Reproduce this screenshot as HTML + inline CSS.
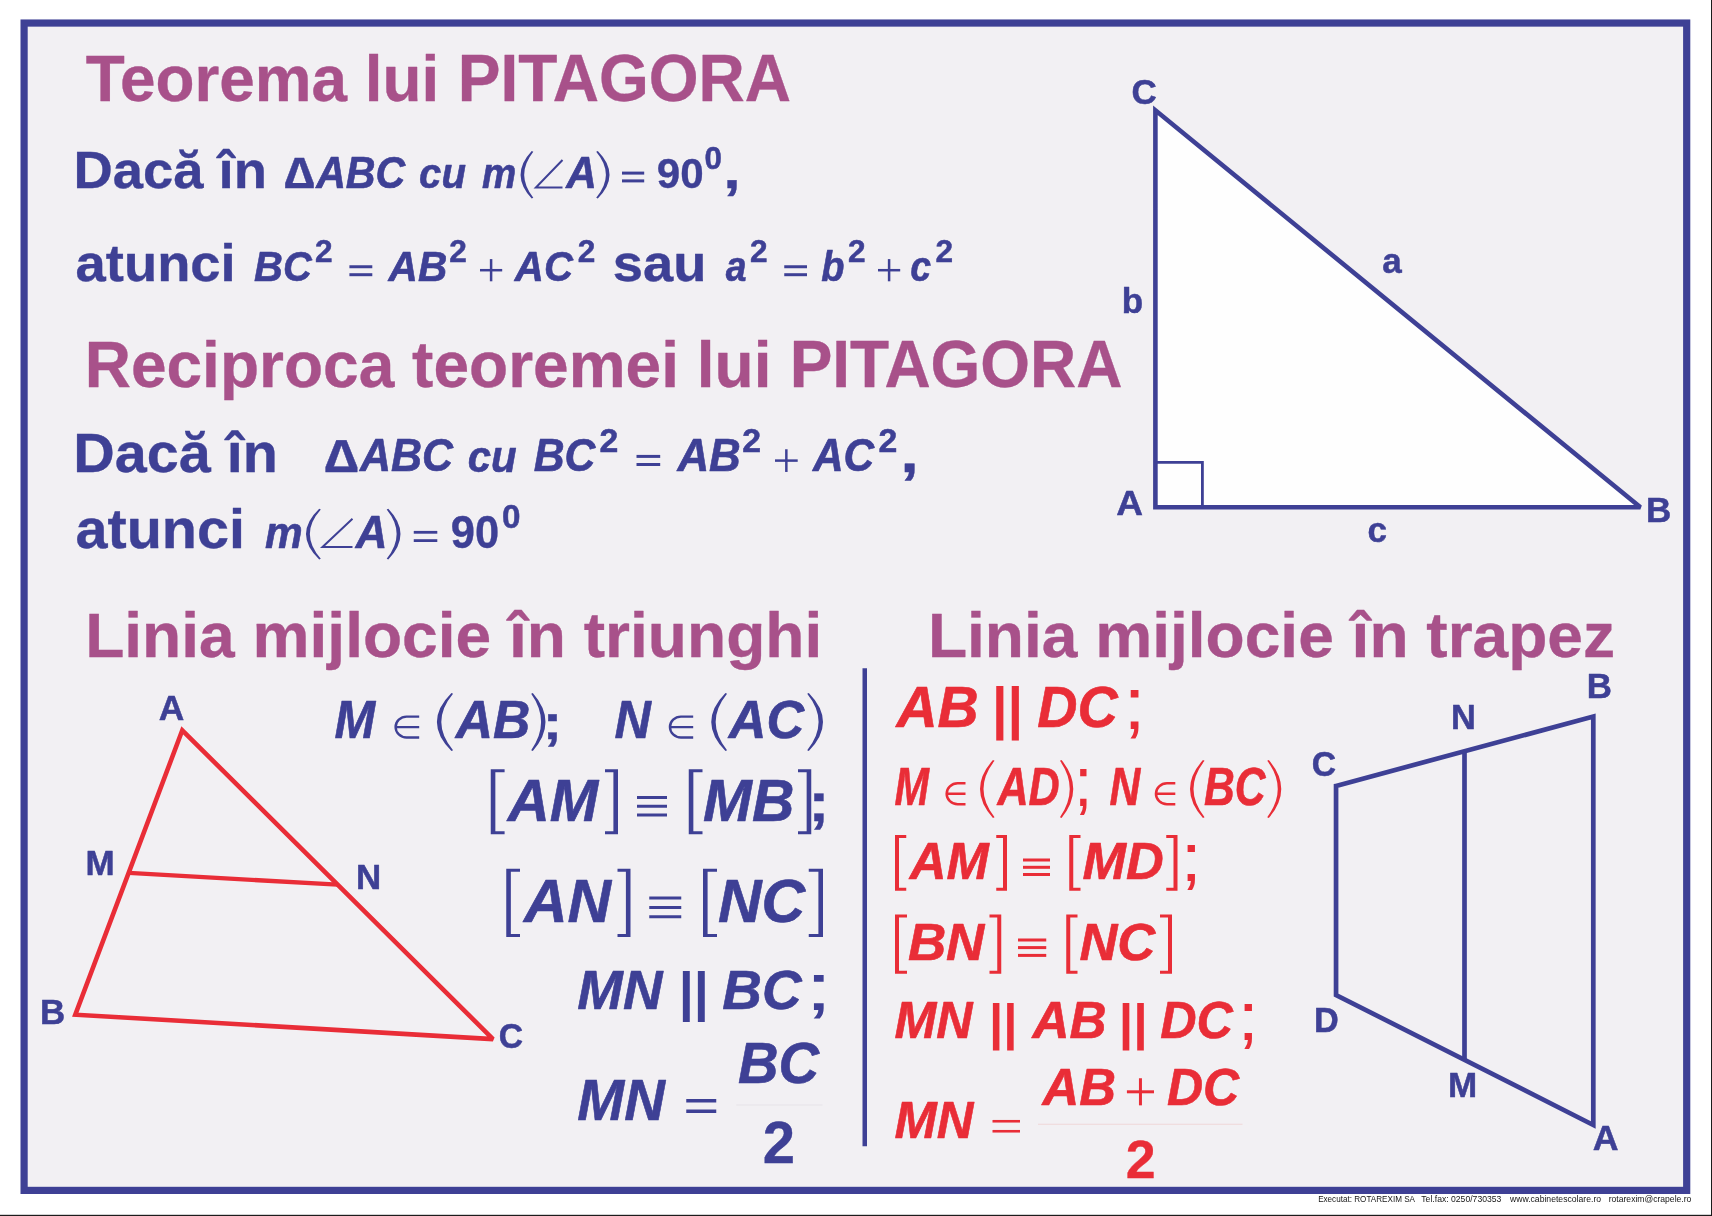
<!DOCTYPE html>
<html><head><meta charset="utf-8"><title>Teorema lui Pitagora</title>
<style>
html,body{margin:0;padding:0;background:#fff;}
body{width:1712px;height:1216px;overflow:hidden;position:relative;font-family:"Liberation Sans",sans-serif;}
svg{position:absolute;left:0;top:0;display:block;will-change:transform;}
text{font-family:"Liberation Sans",sans-serif;white-space:pre;}
</style></head><body>
<svg width="1712" height="1216" viewBox="0 0 1712 1216">
<rect x="24.1" y="23.05" width="1662.6" height="1167.35" fill="#f2f0f3" stroke="#3e4095" stroke-width="7.2"/>
<rect x="1711" y="0" width="1" height="1216" fill="#1c1c1c"/>
<rect x="0" y="1214.8" width="1712" height="1.2" fill="#1c1c1c"/>
<polygon points="1155.4,110.3 1155.4,507.3 1640.4,507.3" fill="#fefefe" stroke="#3e4095" stroke-width="4.6" stroke-linejoin="miter" stroke-miterlimit="2.6"/>
<path d="M1155.4,462.4 H1202.4 V507.3" fill="none" stroke="#3e4095" stroke-width="2.8"/>
<polygon points="182.3,730.3 75.3,1014.7 493,1039.1" fill="none" stroke="#e92d37" stroke-width="4.6" stroke-linejoin="miter" stroke-miterlimit="2.5"/>
<line x1="128.80" y1="872.90" x2="337.65" y2="884.70" stroke="#e92d37" stroke-width="4.30" stroke-linecap="butt"/>
<polygon points="1336.05,785.9 1593.3,716.5 1593.3,1125 1336.05,995" fill="none" stroke="#3e4095" stroke-width="4.7" stroke-linejoin="miter"/>
<line x1="1464.50" y1="751.20" x2="1464.50" y2="1060.00" stroke="#3e4095" stroke-width="4.70" stroke-linecap="butt"/>
<line x1="864.75" y1="668.25" x2="864.75" y2="1146.25" stroke="#3e4095" stroke-width="4.50" stroke-linecap="butt"/>
<path d="M531.70,151.00 Q509.50,174.75 531.70,198.50 L533.30,197.70 Q515.12,174.75 533.30,151.80 Z" fill="#3e4095"/>
<path d="M562.50,160.00 L535.90,187.50 H562.50" fill="none" stroke="#3e4095" stroke-width="2.00" stroke-linejoin="miter"/>
<path d="M597.80,151.00 Q621.20,174.75 597.80,198.50 L596.20,197.70 Q615.58,174.75 596.20,151.80 Z" fill="#3e4095"/>
<line x1="622.00" y1="173.10" x2="644.20" y2="173.10" stroke="#3e4095" stroke-width="3.00" stroke-linecap="butt"/>
<line x1="622.00" y1="180.90" x2="644.20" y2="180.90" stroke="#3e4095" stroke-width="3.00" stroke-linecap="butt"/>
<line x1="349.40" y1="266.75" x2="372.30" y2="266.75" stroke="#3e4095" stroke-width="3.00" stroke-linecap="butt"/>
<line x1="349.40" y1="274.70" x2="372.30" y2="274.70" stroke="#3e4095" stroke-width="3.00" stroke-linecap="butt"/>
<line x1="480.00" y1="270.20" x2="502.20" y2="270.20" stroke="#3e4095" stroke-width="2.50" stroke-linecap="butt"/>
<line x1="491.10" y1="259.10" x2="491.10" y2="281.30" stroke="#3e4095" stroke-width="2.50" stroke-linecap="butt"/>
<line x1="784.25" y1="266.75" x2="807.00" y2="266.75" stroke="#3e4095" stroke-width="3.00" stroke-linecap="butt"/>
<line x1="784.25" y1="274.70" x2="807.00" y2="274.70" stroke="#3e4095" stroke-width="3.00" stroke-linecap="butt"/>
<line x1="878.00" y1="270.20" x2="900.20" y2="270.20" stroke="#3e4095" stroke-width="2.50" stroke-linecap="butt"/>
<line x1="889.10" y1="259.10" x2="889.10" y2="281.30" stroke="#3e4095" stroke-width="2.50" stroke-linecap="butt"/>
<line x1="636.50" y1="456.40" x2="660.20" y2="456.40" stroke="#3e4095" stroke-width="3.00" stroke-linecap="butt"/>
<line x1="636.50" y1="464.50" x2="660.20" y2="464.50" stroke="#3e4095" stroke-width="3.00" stroke-linecap="butt"/>
<line x1="775.00" y1="460.60" x2="797.70" y2="460.60" stroke="#3e4095" stroke-width="2.50" stroke-linecap="butt"/>
<line x1="786.35" y1="449.25" x2="786.35" y2="471.95" stroke="#3e4095" stroke-width="2.50" stroke-linecap="butt"/>
<path d="M319.20,508.75 Q292.80,534.12 319.20,559.50 L320.80,558.70 Q298.91,534.12 320.80,509.55 Z" fill="#3e4095"/>
<path d="M352.50,518.75 L322.50,547.00 H352.50" fill="none" stroke="#3e4095" stroke-width="2.00" stroke-linejoin="miter"/>
<path d="M388.30,508.75 Q412.70,534.12 388.30,559.50 L386.70,558.70 Q406.59,534.12 386.70,509.55 Z" fill="#3e4095"/>
<line x1="413.75" y1="532.30" x2="437.30" y2="532.30" stroke="#3e4095" stroke-width="2.80" stroke-linecap="butt"/>
<line x1="413.75" y1="540.60" x2="437.30" y2="540.60" stroke="#3e4095" stroke-width="2.80" stroke-linecap="butt"/>
<path d="M419.20,716.60 H406.60 A11.00,10.47 0 0 0 406.60,737.55 H419.20 M395.60,727.08 H419.20" fill="none" stroke="#3e4095" stroke-width="2.40"/>
<path d="M451.45,693.00 Q422.35,722.00 451.45,751.00 L453.05,750.20 Q429.57,722.00 453.05,693.80 Z" fill="#3e4095"/>
<path d="M532.80,693.00 Q558.20,722.00 532.80,751.00 L531.20,750.20 Q550.98,722.00 531.20,693.80 Z" fill="#3e4095"/>
<path d="M693.20,716.60 H680.95 A11.00,10.47 0 0 0 680.95,737.55 H693.20 M669.95,727.08 H693.20" fill="none" stroke="#3e4095" stroke-width="2.40"/>
<path d="M725.45,693.00 Q697.05,722.00 725.45,751.00 L727.05,750.20 Q704.27,722.00 727.05,693.80 Z" fill="#3e4095"/>
<path d="M808.80,693.00 Q837.20,722.00 808.80,751.00 L807.20,750.20 Q829.98,722.00 807.20,693.80 Z" fill="#3e4095"/>
<path d="M490.75,769.30 H504.60 V772.30 H495.35 V831.25 H504.60 V834.25 H490.75 Z" fill="#3e4095"/>
<path d="M618.00,769.30 H605.00 V772.30 H613.40 V831.25 H605.00 V834.25 H618.00 Z" fill="#3e4095"/>
<line x1="637.00" y1="797.50" x2="667.00" y2="797.50" stroke="#3e4095" stroke-width="3.00" stroke-linecap="butt"/>
<line x1="637.00" y1="806.25" x2="667.00" y2="806.25" stroke="#3e4095" stroke-width="3.00" stroke-linecap="butt"/>
<line x1="637.00" y1="815.00" x2="667.00" y2="815.00" stroke="#3e4095" stroke-width="3.00" stroke-linecap="butt"/>
<path d="M688.75,769.30 H702.50 V772.30 H693.35 V831.25 H702.50 V834.25 H688.75 Z" fill="#3e4095"/>
<path d="M811.25,769.30 H798.00 V772.30 H806.65 V831.25 H798.00 V834.25 H811.25 Z" fill="#3e4095"/>
<path d="M506.25,868.75 H520.00 V871.75 H510.85 V934.00 H520.00 V937.00 H506.25 Z" fill="#3e4095"/>
<path d="M630.50,868.75 H617.50 V871.75 H625.90 V934.00 H617.50 V937.00 H630.50 Z" fill="#3e4095"/>
<line x1="649.25" y1="898.00" x2="681.25" y2="898.00" stroke="#3e4095" stroke-width="3.00" stroke-linecap="butt"/>
<line x1="649.25" y1="907.50" x2="681.25" y2="907.50" stroke="#3e4095" stroke-width="3.00" stroke-linecap="butt"/>
<line x1="649.25" y1="916.75" x2="681.25" y2="916.75" stroke="#3e4095" stroke-width="3.00" stroke-linecap="butt"/>
<path d="M703.00,868.75 H717.00 V871.75 H707.60 V934.00 H717.00 V937.00 H703.00 Z" fill="#3e4095"/>
<path d="M823.00,868.75 H808.75 V871.75 H818.40 V934.00 H808.75 V937.00 H823.00 Z" fill="#3e4095"/>
<line x1="686.25" y1="1100.75" x2="716.25" y2="1100.75" stroke="#3e4095" stroke-width="3.50" stroke-linecap="butt"/>
<line x1="686.25" y1="1111.25" x2="716.25" y2="1111.25" stroke="#3e4095" stroke-width="3.50" stroke-linecap="butt"/>
<line x1="736.25" y1="1105.00" x2="822.50" y2="1105.00" stroke="#e6e3e8" stroke-width="1.00" stroke-linecap="butt"/>
<path d="M965.50,783.25 H957.67 A11.02,10.50 0 0 0 957.67,804.25 H965.50 M946.65,793.75 H965.50" fill="none" stroke="#e92d37" stroke-width="2.50"/>
<path d="M992.95,760.00 Q967.05,789.00 992.95,818.00 L994.55,817.20 Q972.45,789.00 994.55,760.80 Z" fill="#e92d37"/>
<path d="M1061.55,760.00 Q1084.95,789.00 1061.55,818.00 L1059.95,817.20 Q1079.55,789.00 1059.95,760.80 Z" fill="#e92d37"/>
<path d="M1175.30,783.25 H1166.98 A11.03,10.50 0 0 0 1166.98,804.25 H1175.30 M1155.95,793.75 H1175.30" fill="none" stroke="#e92d37" stroke-width="2.50"/>
<path d="M1202.95,760.00 Q1177.05,789.00 1202.95,818.00 L1204.55,817.20 Q1182.45,789.00 1204.55,760.80 Z" fill="#e92d37"/>
<path d="M1268.80,760.00 Q1293.70,789.00 1268.80,818.00 L1267.20,817.20 Q1288.30,789.00 1267.20,760.80 Z" fill="#e92d37"/>
<path d="M895.00,835.00 H906.25 V837.90 H899.00 V887.85 H906.25 V890.75 H895.00 Z" fill="#e92d37"/>
<path d="M1007.00,835.00 H996.25 V837.90 H1003.00 V887.85 H996.25 V890.75 H1007.00 Z" fill="#e92d37"/>
<line x1="1023.00" y1="860.00" x2="1050.00" y2="860.00" stroke="#e92d37" stroke-width="3.00" stroke-linecap="butt"/>
<line x1="1023.00" y1="867.30" x2="1050.00" y2="867.30" stroke="#e92d37" stroke-width="3.00" stroke-linecap="butt"/>
<line x1="1023.00" y1="874.50" x2="1050.00" y2="874.50" stroke="#e92d37" stroke-width="3.00" stroke-linecap="butt"/>
<path d="M1069.25,835.00 H1080.50 V837.90 H1073.25 V887.85 H1080.50 V890.75 H1069.25 Z" fill="#e92d37"/>
<path d="M1177.50,835.00 H1166.25 V837.90 H1173.50 V887.85 H1166.25 V890.75 H1177.50 Z" fill="#e92d37"/>
<path d="M895.00,914.50 H907.00 V917.40 H899.00 V970.85 H907.00 V973.75 H895.00 Z" fill="#e92d37"/>
<path d="M1001.25,914.50 H989.50 V917.40 H997.25 V970.85 H989.50 V973.75 H1001.25 Z" fill="#e92d37"/>
<line x1="1018.00" y1="940.00" x2="1046.25" y2="940.00" stroke="#e92d37" stroke-width="3.00" stroke-linecap="butt"/>
<line x1="1018.00" y1="947.60" x2="1046.25" y2="947.60" stroke="#e92d37" stroke-width="3.00" stroke-linecap="butt"/>
<line x1="1018.00" y1="955.40" x2="1046.25" y2="955.40" stroke="#e92d37" stroke-width="3.00" stroke-linecap="butt"/>
<path d="M1066.25,914.50 H1077.50 V917.40 H1070.25 V970.85 H1077.50 V973.75 H1066.25 Z" fill="#e92d37"/>
<path d="M1172.00,914.50 H1160.00 V917.40 H1168.00 V970.85 H1160.00 V973.75 H1172.00 Z" fill="#e92d37"/>
<line x1="992.50" y1="1121.25" x2="1020.00" y2="1121.25" stroke="#e92d37" stroke-width="2.60" stroke-linecap="butt"/>
<line x1="992.50" y1="1131.25" x2="1020.00" y2="1131.25" stroke="#e92d37" stroke-width="2.60" stroke-linecap="butt"/>
<line x1="1126.90" y1="1091.80" x2="1154.00" y2="1091.80" stroke="#e92d37" stroke-width="3.00" stroke-linecap="butt"/>
<line x1="1140.45" y1="1078.25" x2="1140.45" y2="1105.35" stroke="#e92d37" stroke-width="3.00" stroke-linecap="butt"/>
<line x1="1038.00" y1="1124.25" x2="1242.50" y2="1124.25" stroke="#efd6d8" stroke-width="1.00" stroke-linecap="butt"/>
<text id="t0" transform="translate(85.70 100.83) scale(0.9823 0.9923)" font-size="65.00" fill="#a8518a" stroke="#a8518a" stroke-width="0.35" stroke-linejoin="round" style="font-weight:bold">Teorema lui</text>
<text id="t1" transform="translate(457.79 100.82) scale(0.9853 1.0327)" font-size="65.00" fill="#a8518a" stroke="#a8518a" stroke-width="0.35" stroke-linejoin="round" style="font-weight:bold">PITAGORA</text>
<text id="t2" transform="translate(84.64 386.63) scale(0.9853 0.9923)" font-size="65.00" fill="#a8518a" stroke="#a8518a" stroke-width="0.35" stroke-linejoin="round" style="font-weight:bold">Reciproca teoremei lui</text>
<text id="t3" transform="translate(789.64 386.62) scale(0.9842 1.0327)" font-size="65.00" fill="#a8518a" stroke="#a8518a" stroke-width="0.35" stroke-linejoin="round" style="font-weight:bold">PITAGORA</text>
<text id="t4" transform="translate(85.14 657.33) scale(1.0095 0.9921)" font-size="63.50" fill="#a8518a" stroke="#a8518a" stroke-width="0.35" stroke-linejoin="round" style="font-weight:bold">Linia mijlocie în triunghi</text>
<text id="t5" transform="translate(927.89 656.83) scale(1.0092 0.9921)" font-size="63.50" fill="#a8518a" stroke="#a8518a" stroke-width="0.35" stroke-linejoin="round" style="font-weight:bold">Linia mijlocie în trapez</text>
<text id="t6" transform="translate(73.54 187.83) scale(1.0258 0.9906)" font-size="53.00" fill="#3e4095" stroke="#3e4095" stroke-width="0.35" stroke-linejoin="round" style="font-weight:bold">Dacă în</text>
<text id="t7" transform="translate(284.16 187.82) scale(1.1680 1.0285)" font-size="42.60" fill="#3e4095" stroke="#3e4095" stroke-width="0.35" stroke-linejoin="round" style="font-weight:bold">∆</text>
<text id="t8" transform="translate(316.13 187.69) scale(0.9654 1.0198)" font-size="42.60" fill="#3e4095" stroke="#3e4095" stroke-width="0.60" stroke-linejoin="round" style="font-weight:bold;font-style:italic">ABC</text>
<text id="t9" transform="translate(419.05 187.71) scale(0.9428 0.9799)" font-size="42.60" fill="#3e4095" stroke="#3e4095" stroke-width="0.60" stroke-linejoin="round" style="font-weight:bold;font-style:italic">cu</text>
<text id="t10" transform="translate(482.11 187.71) scale(0.9033 0.9799)" font-size="42.60" fill="#3e4095" stroke="#3e4095" stroke-width="0.60" stroke-linejoin="round" style="font-weight:bold;font-style:italic">m</text>
<text id="t11" transform="translate(566.17 187.69) scale(0.9942 1.0198)" font-size="42.60" fill="#3e4095" stroke="#3e4095" stroke-width="0.60" stroke-linejoin="round" style="font-weight:bold;font-style:italic">A</text>
<text id="t12" transform="translate(656.71 187.82) scale(0.9888 1.0130)" font-size="42.60" fill="#3e4095" stroke="#3e4095" stroke-width="0.35" stroke-linejoin="round" style="font-weight:bold">90</text>
<text id="t13" transform="translate(704.61 169.15) scale(0.9975 1.0017)" font-size="31.40" fill="#3e4095" stroke="#3e4095" stroke-width="0.50" stroke-linejoin="round" style="font-weight:bold">0</text>
<text id="t14" transform="translate(723.15 187.83) scale(1.1836 0.9906)" font-size="53.00" fill="#3e4095" stroke="#3e4095" stroke-width="0.35" stroke-linejoin="round" style="font-weight:bold">,</text>
<text id="t15" transform="translate(75.59 281.13) scale(1.0257 0.9906)" font-size="53.00" fill="#3e4095" stroke="#3e4095" stroke-width="0.35" stroke-linejoin="round" style="font-weight:bold">atunci</text>
<text id="t16" transform="translate(254.08 280.99) scale(0.9373 1.0198)" font-size="42.60" fill="#3e4095" stroke="#3e4095" stroke-width="0.60" stroke-linejoin="round" style="font-weight:bold;font-style:italic">BC</text>
<text id="t17" transform="translate(315.06 262.05) scale(1.0050 1.0017)" font-size="31.40" fill="#3e4095" stroke="#3e4095" stroke-width="0.50" stroke-linejoin="round" style="font-weight:bold">2</text>
<text id="t18" transform="translate(388.62 280.99) scale(0.9524 1.0198)" font-size="42.60" fill="#3e4095" stroke="#3e4095" stroke-width="0.60" stroke-linejoin="round" style="font-weight:bold;font-style:italic">AB</text>
<text id="t19" transform="translate(449.36 262.05) scale(1.0050 1.0017)" font-size="31.40" fill="#3e4095" stroke="#3e4095" stroke-width="0.50" stroke-linejoin="round" style="font-weight:bold">2</text>
<text id="t20" transform="translate(514.86 280.99) scale(0.9448 1.0198)" font-size="42.60" fill="#3e4095" stroke="#3e4095" stroke-width="0.60" stroke-linejoin="round" style="font-weight:bold;font-style:italic">AC</text>
<text id="t21" transform="translate(577.66 262.05) scale(1.0050 1.0017)" font-size="31.40" fill="#3e4095" stroke="#3e4095" stroke-width="0.50" stroke-linejoin="round" style="font-weight:bold">2</text>
<text id="t22" transform="translate(612.77 281.13) scale(1.0252 0.9906)" font-size="53.00" fill="#3e4095" stroke="#3e4095" stroke-width="0.35" stroke-linejoin="round" style="font-weight:bold">sau</text>
<text id="t23" transform="translate(725.83 281.01) scale(0.8754 0.9799)" font-size="42.60" fill="#3e4095" stroke="#3e4095" stroke-width="0.60" stroke-linejoin="round" style="font-weight:bold;font-style:italic">a</text>
<text id="t24" transform="translate(749.91 262.05) scale(1.0050 1.0017)" font-size="31.40" fill="#3e4095" stroke="#3e4095" stroke-width="0.50" stroke-linejoin="round" style="font-weight:bold">2</text>
<text id="t25" transform="translate(821.37 281.01) scale(0.8916 0.9799)" font-size="42.60" fill="#3e4095" stroke="#3e4095" stroke-width="0.60" stroke-linejoin="round" style="font-weight:bold;font-style:italic">b</text>
<text id="t26" transform="translate(847.91 262.05) scale(1.0050 1.0017)" font-size="31.40" fill="#3e4095" stroke="#3e4095" stroke-width="0.50" stroke-linejoin="round" style="font-weight:bold">2</text>
<text id="t27" transform="translate(910.36 281.01) scale(0.8829 0.9799)" font-size="42.60" fill="#3e4095" stroke="#3e4095" stroke-width="0.60" stroke-linejoin="round" style="font-weight:bold;font-style:italic">c</text>
<text id="t28" transform="translate(935.46 262.05) scale(1.0050 1.0017)" font-size="31.40" fill="#3e4095" stroke="#3e4095" stroke-width="0.50" stroke-linejoin="round" style="font-weight:bold">2</text>
<text id="t29" transform="translate(73.33 471.63) scale(1.0269 0.9911)" font-size="56.00" fill="#3e4095" stroke="#3e4095" stroke-width="0.35" stroke-linejoin="round" style="font-weight:bold">Dacă în</text>
<text id="t30" transform="translate(324.55 471.62) scale(1.2371 1.0291)" font-size="44.80" fill="#3e4095" stroke="#3e4095" stroke-width="0.35" stroke-linejoin="round" style="font-weight:bold">∆</text>
<text id="t31" transform="translate(359.92 471.49) scale(0.9585 1.0208)" font-size="44.80" fill="#3e4095" stroke="#3e4095" stroke-width="0.60" stroke-linejoin="round" style="font-weight:bold;font-style:italic">ABC</text>
<text id="t32" transform="translate(467.74 471.51) scale(0.9366 0.9809)" font-size="44.80" fill="#3e4095" stroke="#3e4095" stroke-width="0.60" stroke-linejoin="round" style="font-weight:bold;font-style:italic">cu</text>
<text id="t33" transform="translate(533.79 471.49) scale(0.9531 1.0208)" font-size="44.80" fill="#3e4095" stroke="#3e4095" stroke-width="0.60" stroke-linejoin="round" style="font-weight:bold;font-style:italic">BC</text>
<text id="t34" transform="translate(599.48 451.65) scale(1.0245 1.0028)" font-size="33.00" fill="#3e4095" stroke="#3e4095" stroke-width="0.50" stroke-linejoin="round" style="font-weight:bold">2</text>
<text id="t35" transform="translate(677.44 471.49) scale(0.9795 1.0208)" font-size="44.80" fill="#3e4095" stroke="#3e4095" stroke-width="0.60" stroke-linejoin="round" style="font-weight:bold;font-style:italic">AB</text>
<text id="t36" transform="translate(742.18 451.65) scale(1.0245 1.0028)" font-size="33.00" fill="#3e4095" stroke="#3e4095" stroke-width="0.50" stroke-linejoin="round" style="font-weight:bold">2</text>
<text id="t37" transform="translate(812.90 471.49) scale(0.9474 1.0208)" font-size="44.80" fill="#3e4095" stroke="#3e4095" stroke-width="0.60" stroke-linejoin="round" style="font-weight:bold;font-style:italic">AC</text>
<text id="t38" transform="translate(878.48 451.65) scale(1.0245 1.0028)" font-size="33.00" fill="#3e4095" stroke="#3e4095" stroke-width="0.50" stroke-linejoin="round" style="font-weight:bold">2</text>
<text id="t39" transform="translate(900.17 471.63) scale(1.1954 0.9911)" font-size="56.00" fill="#3e4095" stroke="#3e4095" stroke-width="0.35" stroke-linejoin="round" style="font-weight:bold">,</text>
<text id="t40" transform="translate(75.49 547.83) scale(1.0287 0.9911)" font-size="56.00" fill="#3e4095" stroke="#3e4095" stroke-width="0.35" stroke-linejoin="round" style="font-weight:bold">atunci</text>
<text id="t41" transform="translate(265.06 547.71) scale(0.9453 0.9809)" font-size="44.80" fill="#3e4095" stroke="#3e4095" stroke-width="0.60" stroke-linejoin="round" style="font-weight:bold;font-style:italic">m</text>
<text id="t42" transform="translate(355.69 547.69) scale(0.9789 1.0208)" font-size="44.80" fill="#3e4095" stroke="#3e4095" stroke-width="0.60" stroke-linejoin="round" style="font-weight:bold;font-style:italic">A</text>
<text id="t43" transform="translate(450.66 547.82) scale(0.9722 1.0136)" font-size="44.80" fill="#3e4095" stroke="#3e4095" stroke-width="0.35" stroke-linejoin="round" style="font-weight:bold">90</text>
<text id="t44" transform="translate(502.04 527.55) scale(1.0059 1.0028)" font-size="33.00" fill="#3e4095" stroke="#3e4095" stroke-width="0.50" stroke-linejoin="round" style="font-weight:bold">0</text>
<text id="t45" transform="translate(1131.56 104.35) scale(1.0000 1.0195)" font-size="35.00" fill="#3e4095" stroke="#3e4095" stroke-width="0.50" stroke-linejoin="round" style="font-weight:bold">C</text>
<text id="t46" transform="translate(1382.32 272.86) scale(1.0000 0.9796)" font-size="35.00" fill="#3e4095" stroke="#3e4095" stroke-width="0.50" stroke-linejoin="round" style="font-weight:bold">a</text>
<text id="t47" transform="translate(1121.69 312.56) scale(1.0000 0.9796)" font-size="35.00" fill="#3e4095" stroke="#3e4095" stroke-width="0.50" stroke-linejoin="round" style="font-weight:bold">b</text>
<text id="t48" transform="translate(1116.24 514.75) scale(1.0591 1.0195)" font-size="35.00" fill="#3e4095" stroke="#3e4095" stroke-width="0.50" stroke-linejoin="round" style="font-weight:bold">A</text>
<text id="t49" transform="translate(1646.01 521.65) scale(1.0000 1.0195)" font-size="35.00" fill="#3e4095" stroke="#3e4095" stroke-width="0.50" stroke-linejoin="round" style="font-weight:bold">B</text>
<text id="t50" transform="translate(1367.38 542.16) scale(1.0000 0.9796)" font-size="35.00" fill="#3e4095" stroke="#3e4095" stroke-width="0.50" stroke-linejoin="round" style="font-weight:bold">c</text>
<text id="t51" transform="translate(158.87 719.75) scale(1.0111 1.0195)" font-size="35.00" fill="#3e4095" stroke="#3e4095" stroke-width="0.50" stroke-linejoin="round" style="font-weight:bold">A</text>
<text id="t52" transform="translate(85.41 875.25) scale(1.0013 1.0195)" font-size="35.00" fill="#3e4095" stroke="#3e4095" stroke-width="0.50" stroke-linejoin="round" style="font-weight:bold">M</text>
<text id="t53" transform="translate(355.92 889.25) scale(0.9963 1.0195)" font-size="35.00" fill="#3e4095" stroke="#3e4095" stroke-width="0.50" stroke-linejoin="round" style="font-weight:bold">N</text>
<text id="t54" transform="translate(39.92 1023.50) scale(0.9956 1.0195)" font-size="35.00" fill="#3e4095" stroke="#3e4095" stroke-width="0.50" stroke-linejoin="round" style="font-weight:bold">B</text>
<text id="t55" transform="translate(498.86 1048.05) scale(0.9622 1.0195)" font-size="35.00" fill="#3e4095" stroke="#3e4095" stroke-width="0.50" stroke-linejoin="round" style="font-weight:bold">C</text>
<text id="t56" transform="translate(1586.67 698.00) scale(0.9956 1.0195)" font-size="35.00" fill="#3e4095" stroke="#3e4095" stroke-width="0.50" stroke-linejoin="round" style="font-weight:bold">B</text>
<text id="t57" transform="translate(1450.94 729.25) scale(0.9845 1.0195)" font-size="35.00" fill="#3e4095" stroke="#3e4095" stroke-width="0.50" stroke-linejoin="round" style="font-weight:bold">N</text>
<text id="t58" transform="translate(1311.86 776.35) scale(0.9622 1.0195)" font-size="35.00" fill="#3e4095" stroke="#3e4095" stroke-width="0.50" stroke-linejoin="round" style="font-weight:bold">C</text>
<text id="t59" transform="translate(1313.95 1031.50) scale(0.9788 1.0195)" font-size="35.00" fill="#3e4095" stroke="#3e4095" stroke-width="0.50" stroke-linejoin="round" style="font-weight:bold">D</text>
<text id="t60" transform="translate(1447.91 1097.25) scale(1.0013 1.0195)" font-size="35.00" fill="#3e4095" stroke="#3e4095" stroke-width="0.50" stroke-linejoin="round" style="font-weight:bold">M</text>
<text id="t61" transform="translate(1592.87 1149.75) scale(1.0216 1.0195)" font-size="35.00" fill="#3e4095" stroke="#3e4095" stroke-width="0.50" stroke-linejoin="round" style="font-weight:bold">A</text>
<text id="t62" transform="translate(334.42 738.44) scale(0.9446 1.0234)" font-size="51.70" fill="#3e4095" stroke="#3e4095" stroke-width="0.60" stroke-linejoin="round" style="font-weight:bold;font-style:italic">M</text>
<text id="t63" transform="translate(455.86 738.44) scale(0.9978 1.0234)" font-size="51.70" fill="#3e4095" stroke="#3e4095" stroke-width="0.60" stroke-linejoin="round" style="font-weight:bold;font-style:italic">AB</text>
<text id="t64" transform="translate(542.55 738.58) scale(1.2014 0.9899)" font-size="49.50" fill="#3e4095" stroke="#3e4095" stroke-width="0.35" stroke-linejoin="round" style="font-weight:bold">;</text>
<text id="t65" transform="translate(614.41 738.44) scale(0.9758 1.0234)" font-size="51.70" fill="#3e4095" stroke="#3e4095" stroke-width="0.60" stroke-linejoin="round" style="font-weight:bold;font-style:italic">N</text>
<text id="t66" transform="translate(728.87 738.44) scale(1.0073 1.0234)" font-size="51.70" fill="#3e4095" stroke="#3e4095" stroke-width="0.60" stroke-linejoin="round" style="font-weight:bold;font-style:italic">AC</text>
<text id="t67" transform="translate(507.74 820.94) scale(0.9976 1.0254)" font-size="58.30" fill="#3e4095" stroke="#3e4095" stroke-width="0.60" stroke-linejoin="round" style="font-weight:bold;font-style:italic">AM</text>
<text id="t68" transform="translate(703.02 820.94) scale(1.0078 1.0254)" font-size="58.30" fill="#3e4095" stroke="#3e4095" stroke-width="0.60" stroke-linejoin="round" style="font-weight:bold;font-style:italic">MB</text>
<text id="t69" transform="translate(808.14 821.08) scale(1.1579 0.9909)" font-size="55.00" fill="#3e4095" stroke="#3e4095" stroke-width="0.35" stroke-linejoin="round" style="font-weight:bold">;</text>
<text id="t70" transform="translate(524.04 922.19) scale(1.0156 1.0257)" font-size="59.40" fill="#3e4095" stroke="#3e4095" stroke-width="0.60" stroke-linejoin="round" style="font-weight:bold;font-style:italic">AN</text>
<text id="t71" transform="translate(717.99 922.19) scale(1.0170 1.0257)" font-size="59.40" fill="#3e4095" stroke="#3e4095" stroke-width="0.60" stroke-linejoin="round" style="font-weight:bold;font-style:italic">NC</text>
<text id="t72" transform="translate(577.34 1009.19) scale(1.0051 1.0243)" font-size="54.50" fill="#3e4095" stroke="#3e4095" stroke-width="0.60" stroke-linejoin="round" style="font-weight:bold;font-style:italic">MN</text>
<text id="t73" transform="translate(678.69 1009.50) scale(0.9899 1.0000)" font-size="54.50" fill="#3e4095" style="font-weight:bold">||</text>
<text id="t74" transform="translate(722.34 1009.19) scale(1.0064 1.0243)" font-size="54.50" fill="#3e4095" stroke="#3e4095" stroke-width="0.60" stroke-linejoin="round" style="font-weight:bold;font-style:italic">BC</text>
<text id="t75" transform="translate(804.61 1010.00) scale(1.5422 1.0000)" font-size="66.00" fill="#3e4095" style="">;</text>
<text id="t76" transform="translate(577.31 1119.69) scale(0.9979 1.0249)" font-size="56.50" fill="#3e4095" stroke="#3e4095" stroke-width="0.60" stroke-linejoin="round" style="font-weight:bold;font-style:italic">MN</text>
<text id="t77" transform="translate(738.06 1083.44) scale(1.0013 1.0248)" font-size="56.00" fill="#3e4095" stroke="#3e4095" stroke-width="0.60" stroke-linejoin="round" style="font-weight:bold;font-style:italic">BC</text>
<text id="t78" transform="translate(762.86 1163.12) scale(1.0006 1.0162)" font-size="58.00" fill="#3e4095" stroke="#3e4095" stroke-width="0.35" stroke-linejoin="round" style="font-weight:bold">2</text>
<text id="t79" transform="translate(896.47 727.19) scale(1.0078 1.0249)" font-size="56.50" fill="#e92d37" stroke="#e92d37" stroke-width="0.60" stroke-linejoin="round" style="font-weight:bold;font-style:italic">AB</text>
<text id="t80" transform="translate(992.00 727.50) scale(0.9872 1.0000)" font-size="56.50" fill="#e92d37" style="font-weight:bold">||</text>
<text id="t81" transform="translate(1037.32 727.19) scale(0.9863 1.0249)" font-size="56.50" fill="#e92d37" stroke="#e92d37" stroke-width="0.60" stroke-linejoin="round" style="font-weight:bold;font-style:italic">DC</text>
<text id="t82" transform="translate(1123.34 728.90) scale(1.0800 1.0000)" font-size="74.80" fill="#e92d37" style="">;</text>
<text id="t83" transform="translate(894.51 805.19) scale(0.7970 1.0235)" font-size="52.00" fill="#e92d37" stroke="#e92d37" stroke-width="0.60" stroke-linejoin="round" style="font-weight:bold;font-style:italic">M</text>
<text id="t84" transform="translate(997.38 805.19) scale(0.8303 1.0235)" font-size="52.00" fill="#e92d37" stroke="#e92d37" stroke-width="0.60" stroke-linejoin="round" style="font-weight:bold;font-style:italic">AD</text>
<text id="t85" transform="translate(1073.93 806.10) scale(0.9500 1.0000)" font-size="70.00" fill="#e92d37" style="">;</text>
<text id="t86" transform="translate(1109.50 805.19) scale(0.8199 1.0235)" font-size="52.00" fill="#e92d37" stroke="#e92d37" stroke-width="0.60" stroke-linejoin="round" style="font-weight:bold;font-style:italic">N</text>
<text id="t87" transform="translate(1204.00 805.19) scale(0.8192 1.0235)" font-size="52.00" fill="#e92d37" stroke="#e92d37" stroke-width="0.60" stroke-linejoin="round" style="font-weight:bold;font-style:italic">BC</text>
<text id="t88" transform="translate(909.85 879.19) scale(1.0156 1.0229)" font-size="50.00" fill="#e92d37" stroke="#e92d37" stroke-width="0.60" stroke-linejoin="round" style="font-weight:bold;font-style:italic">AM</text>
<text id="t89" transform="translate(1082.39 879.19) scale(1.0454 1.0229)" font-size="50.00" fill="#e92d37" stroke="#e92d37" stroke-width="0.60" stroke-linejoin="round" style="font-weight:bold;font-style:italic">MD</text>
<text id="t90" transform="translate(1180.60 880.90) scale(1.1200 1.0000)" font-size="68.60" fill="#e92d37" style="">;</text>
<text id="t91" transform="translate(907.88 959.69) scale(1.0468 1.0231)" font-size="50.60" fill="#e92d37" stroke="#e92d37" stroke-width="0.60" stroke-linejoin="round" style="font-weight:bold;font-style:italic">BN</text>
<text id="t92" transform="translate(1079.39 959.69) scale(1.0391 1.0231)" font-size="50.60" fill="#e92d37" stroke="#e92d37" stroke-width="0.60" stroke-linejoin="round" style="font-weight:bold;font-style:italic">NC</text>
<text id="t93" transform="translate(894.41 1038.44) scale(0.9936 1.0231)" font-size="50.60" fill="#e92d37" stroke="#e92d37" stroke-width="0.60" stroke-linejoin="round" style="font-weight:bold;font-style:italic">MN</text>
<text id="t94" transform="translate(988.91 1038.75) scale(1.0083 1.0000)" font-size="50.60" fill="#e92d37" style="font-weight:bold">||</text>
<text id="t95" transform="translate(1032.60 1038.44) scale(1.0125 1.0231)" font-size="50.60" fill="#e92d37" stroke="#e92d37" stroke-width="0.60" stroke-linejoin="round" style="font-weight:bold;font-style:italic">AB</text>
<text id="t96" transform="translate(1118.66 1038.75) scale(1.0229 1.0000)" font-size="50.60" fill="#e92d37" style="font-weight:bold">||</text>
<text id="t97" transform="translate(1160.16 1038.44) scale(0.9948 1.0231)" font-size="50.60" fill="#e92d37" stroke="#e92d37" stroke-width="0.60" stroke-linejoin="round" style="font-weight:bold;font-style:italic">DC</text>
<text id="t98" transform="translate(1237.50 1040.00) scale(1.1200 1.0000)" font-size="68.60" fill="#e92d37" style="">;</text>
<text id="t99" transform="translate(894.41 1138.44) scale(0.9954 1.0232)" font-size="51.00" fill="#e92d37" stroke="#e92d37" stroke-width="0.60" stroke-linejoin="round" style="font-weight:bold;font-style:italic">MN</text>
<text id="t100" transform="translate(1042.60 1105.19) scale(1.0177 1.0229)" font-size="50.00" fill="#e92d37" stroke="#e92d37" stroke-width="0.60" stroke-linejoin="round" style="font-weight:bold;font-style:italic">AB</text>
<text id="t101" transform="translate(1166.92 1105.19) scale(0.9999 1.0229)" font-size="50.00" fill="#e92d37" stroke="#e92d37" stroke-width="0.60" stroke-linejoin="round" style="font-weight:bold;font-style:italic">DC</text>
<text id="t102" transform="translate(1125.82 1177.82) scale(1.0342 1.0151)" font-size="52.00" fill="#e92d37" stroke="#e92d37" stroke-width="0.35" stroke-linejoin="round" style="font-weight:bold">2</text>
<text id="t103" transform="translate(1318.13 1201.80) scale(0.9449 1.0000)" font-size="8.60" fill="#161616" style="">Executat: ROTAREXIM SA</text>
<text id="t104" transform="translate(1421.31 1201.80) scale(1.0035 1.0000)" font-size="8.60" fill="#161616" style="">Tel.fax: 0250/730353</text>
<text id="t105" transform="translate(1509.91 1201.80) scale(1.0053 1.0000)" font-size="8.60" fill="#161616" style="">www.cabinetescolare.ro</text>
<text id="t106" transform="translate(1608.73 1201.80) scale(0.9996 1.0000)" font-size="8.60" fill="#161616" style="">rotarexim@crapele.ro</text>
</svg>
</body></html>
